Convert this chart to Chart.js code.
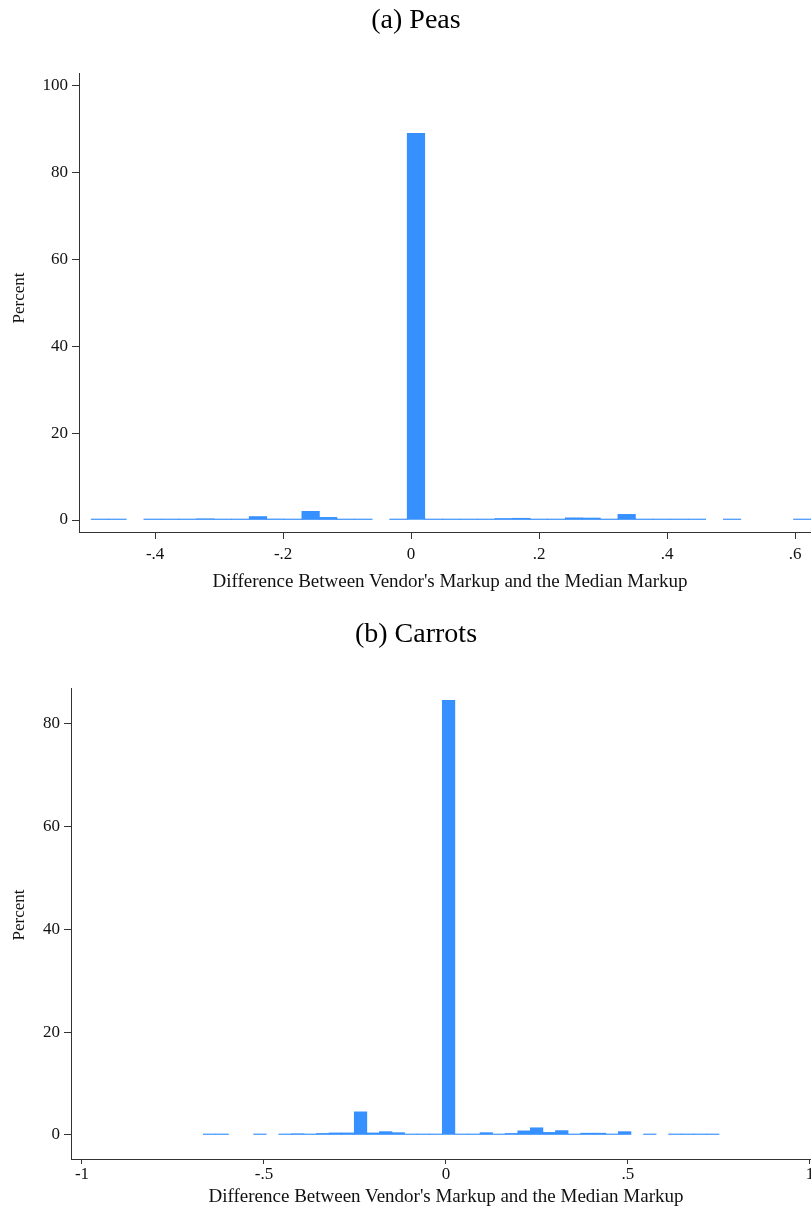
<!DOCTYPE html>
<html>
<head>
<meta charset="utf-8">
<script src="https://cdn.jsdelivr.net/npm/chart.js@4"></script>
<style>
  html, body { margin: 0; padding: 0; background: #fff; overflow: hidden; }
  body { width: 811px; height: 1209px; position: relative; }
  .panel { position: absolute; left: 0; }
  .label {
    position: absolute;
    white-space: nowrap;
    line-height: 1;
    color: #111;
    font-family: 'Liberation Serif', 'DejaVu Serif', serif;
    transform: translate(-50%, -50%);
  }
  .heading { font-size: 28px; color: #000; }
  .axis-title { font-size: 19px; }
  .y-title {
    position: absolute;
    width: 60px;
    height: 20px;
    line-height: 20px;
    text-align: center;
    font-size: 17px;
    color: #111;
    font-family: 'Liberation Serif', 'DejaVu Serif', serif;
    transform: rotate(-90deg);
    transform-origin: 30px 10px;
  }
</style>
</head>
<body>
<canvas id="peasChart" class="panel" width="820" height="600" style="top:0"></canvas>
<canvas id="carrotsChart" class="panel" width="820" height="609" style="top:600px"></canvas>

<div class="label heading" style="left:416px; top:19px">(a) Peas</div>
<div class="y-title" style="left:-11px; top:288px">Percent</div>
<div class="label axis-title" id="peasXTitle" style="left:450px; top:580px"></div>

<div class="label heading" style="left:416px; top:633px">(b) Carrots</div>
<div class="y-title" style="left:-11px; top:905px">Percent</div>
<div class="label axis-title" id="carrotsXTitle" style="left:446px; top:1195px"></div>

<script>
// histogram bins: 41 equal-width bins starting at binStart
const peasBinStart = -0.5;
const peasBinWidth = 1.125 / 41;
const peasPercent = [
  0.1, 0.1, null, 0.15, 0.05, 0.1, 0.3, 0.1, 0.1, 0.8,
  0.25, 0.1, 2.0, 0.6, 0.1, 0.1, null, 0.1, 89.0, 0.05,
  0.15, 0.15, 0.1, 0.35, 0.4, 0.15, 0.15, 0.5, 0.45, 0.15,
  1.3, 0.1, 0.1, 0.1, 0.05, null, 0.1, null, null, null,
  0.1
];

const carrotsBinStart = -2 / 3;
const carrotsBinWidth = (0.75 + 2 / 3) / 41;
const carrotsPercent = [
  0.1, 0.1, null, null, 0.1, null, 0.1, 0.25, 0.05, 0.3,
  0.4, 0.4, 4.5, 0.4, 0.65, 0.45, 0.15, 0.05, 0.1, 84.5,
  0.05, 0.1, 0.45, 0.15, 0.3, 0.8, 1.4, 0.5, 0.85, 0.15,
  0.35, 0.35, 0.1, 0.65, null, 0.05, null, 0.1, 0.1, 0.1,
  0.1
];

const xTitle = "Difference Between Vendor's Markup and the Median Markup";

const SERIF = "'Liberation Serif', 'DejaVu Serif', serif";
const BAR_BLUE = '#3690ff';
const AXIS = '#333333';

document.getElementById('peasXTitle').textContent = xTitle;
document.getElementById('carrotsXTitle').textContent = xTitle;

function binPoints(start, width, values) {
  const pts = [];
  values.forEach((v, i) => {
    if (v !== null) pts.push({ x: start + (i + 0.5) * width, y: v });
  });
  return pts;
}

// Stata-style labels: .2 instead of 0.2
function stataLabel(v) {
  const r = Math.round(v * 10) / 10;
  if (r === 0) return '0';
  return String(r).replace(/^0\./, '.').replace(/^-0\./, '-.');
}

function makeHistogram(canvasId, opts) {
  const ctx = document.getElementById(canvasId).getContext('2d');
  return new Chart(ctx, {
    type: 'bar',
    data: {
      datasets: [{
        data: binPoints(opts.binStart, opts.binWidth, opts.values),
        backgroundColor: BAR_BLUE,
        borderWidth: 0,
        minBarLength: 1,
        barPercentage: 1,
        categoryPercentage: 1
      }]
    },
    options: {
      responsive: false,
      animation: false,
      devicePixelRatio: 1,
      layout: { padding: { left: 0, right: 0, top: opts.areaTop, bottom: 0 } },
      plugins: {
        legend: { display: false },
        tooltip: { enabled: false },
        title: { display: false }
      },
      scales: {
        x: {
          type: 'linear',
          offset: false,
          min: opts.xMin,
          max: opts.xMax,
          afterFit: (scale) => { scale.height = opts.xHeight; },
          grid: {
            offset: false,
            drawOnChartArea: false,
            drawTicks: true,
            tickLength: opts.xTickLength,
            color: AXIS
          },
          border: { display: true, color: AXIS, width: 1 },
          ticks: {
            stepSize: opts.xStep,
            includeBounds: false,
            maxRotation: 0,
            autoSkip: false,
            padding: opts.xTickPadding,
            color: '#111',
            font: { family: SERIF, size: 17 },
            callback: (v) => stataLabel(v)
          }
        },
        y: {
          min: opts.yMin,
          max: opts.yMax,
          afterFit: (scale) => { scale.width = opts.yWidth; },
          grid: {
            drawOnChartArea: false,
            drawTicks: true,
            tickLength: 7,
            color: AXIS
          },
          border: { display: true, color: AXIS, width: 1 },
          ticks: {
            stepSize: 20,
            includeBounds: false,
            padding: 4,
            color: '#111',
            font: { family: SERIF, size: 17 }
          }
        }
      }
    }
  });
}

makeHistogram('peasChart', {
  areaTop: 73,
  binStart: peasBinStart,
  binWidth: peasBinWidth,
  values: peasPercent,
  xMin: -0.519,
  xMax: 0.639,
  xStep: 0.2,
  xHeight: 68,
  xTickLength: 7,
  xTickPadding: 5,
  yMin: -2.76,
  yMax: 102.9,
  yWidth: 79
});

makeHistogram('carrotsChart', {
  areaTop: 88,
  binStart: carrotsBinStart,
  binWidth: carrotsBinWidth,
  values: carrotsPercent,
  xMin: -1.0302,
  xMax: 1.0275,
  xStep: 0.5,
  xHeight: 50,
  xTickLength: 5,
  xTickPadding: 0,
  yMin: -4.67,
  yMax: 86.9,
  yWidth: 71
});
</script>
</body>
</html>
